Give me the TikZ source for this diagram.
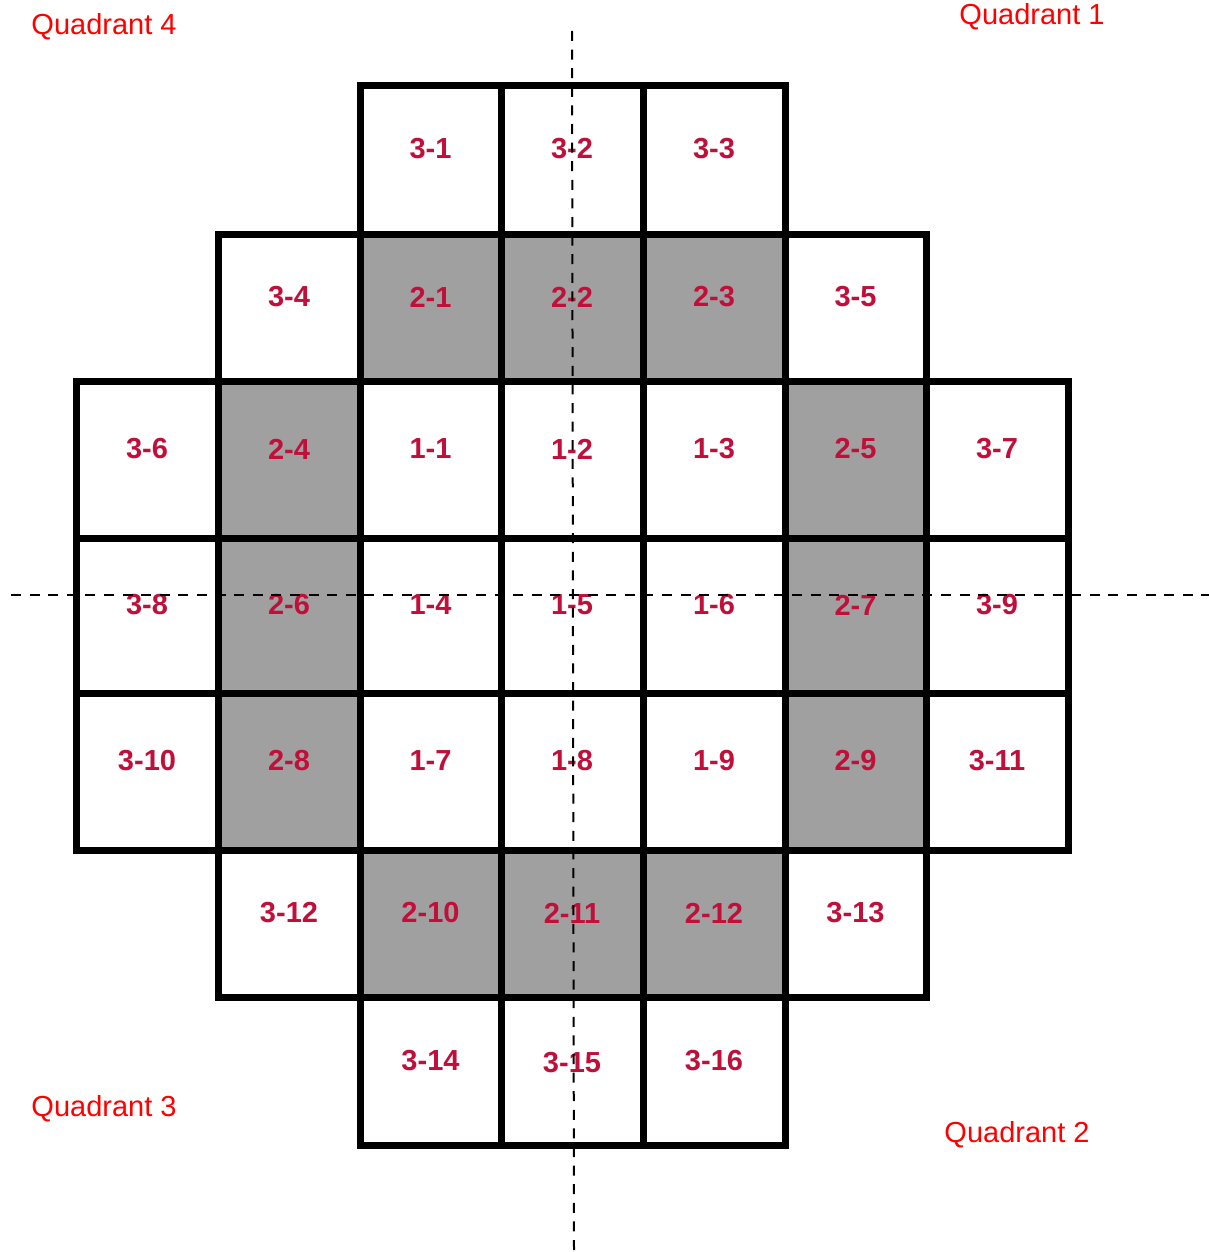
\documentclass[tikz,border=0pt]{standalone}
\usepackage{fontspec}
\setmainfont{Liberation Sans}
\definecolor{labred}{HTML}{C0103A}
\definecolor{cellgray}{HTML}{A0A0A0}
\tikzset{
  cellbox/.style={draw=black,line width=3.5pt,line join=miter},
  celllabel/.style={text=labred,font=\bfseries\fontsize{14.5}{17}\selectfont,inner sep=0pt},
  quadlabel/.style={text=red,font=\fontsize{14.5}{17}\selectfont,anchor=base,inner sep=0pt},
  axisline/.style={draw=black,line width=1pt,dash pattern=on 5pt off 4.3pt}
}
\begin{document}
\begin{tikzpicture}[x=0.5pt,y=-0.5pt]
\useasboundingbox (0,0) rectangle (1209,1252);
\def\colx{{76,218,360,501,643,785,926,1068}}
\def\rowy{{86,234,381,538,693,850,997,1145}}
\def\laby{{149,297,449,605,761,913,1061}}
% label / col / row / fill
\foreach \l/\c/\r/\f in {
 3-1/2/0/white,3-2/3/0/white,3-3/4/0/white,
 3-4/1/1/white,2-1/2/1/cellgray,2-2/3/1/cellgray,2-3/4/1/cellgray,3-5/5/1/white,
 3-6/0/2/white,2-4/1/2/cellgray,1-1/2/2/white,1-2/3/2/white,1-3/4/2/white,2-5/5/2/cellgray,3-7/6/2/white,
 3-8/0/3/white,2-6/1/3/cellgray,1-4/2/3/white,1-5/3/3/white,1-6/4/3/white,2-7/5/3/cellgray,3-9/6/3/white,
 3-10/0/4/white,2-8/1/4/cellgray,1-7/2/4/white,1-8/3/4/white,1-9/4/4/white,2-9/5/4/cellgray,3-11/6/4/white,
 3-12/1/5/white,2-10/2/5/cellgray,2-11/3/5/cellgray,2-12/4/5/cellgray,3-13/5/5/white,
 3-14/2/6/white,3-15/3/6/white,3-16/4/6/white}{
  \pgfmathsetmacro{\xa}{\colx[\c]}
  \pgfmathsetmacro{\xb}{\colx[\c+1]}
  \pgfmathsetmacro{\ya}{\rowy[\r]}
  \pgfmathsetmacro{\yb}{\rowy[\r+1]}
  \fill[\f] (\xa,\ya) rectangle (\xb,\yb);
}
\foreach \l/\c/\r/\dy in {
 3-1/2/0/0,3-2/3/0/0,3-3/4/0/0,
 3-4/1/1/0,2-1/2/1/0,2-2/3/1/0,2-3/4/1/0,3-5/5/1/0,
 3-6/0/2/0,2-4/1/2/0,1-1/2/2/0,1-2/3/2/0,1-3/4/2/0,2-5/5/2/0,3-7/6/2/0,
 3-8/0/3/0,2-6/1/3/0,1-4/2/3/0,1-5/3/3/0,1-6/4/3/0,2-7/5/3/0,3-9/6/3/0,
 3-10/0/4/0,2-8/1/4/0,1-7/2/4/0,1-8/3/4/0,1-9/4/4/0,2-9/5/4/0,3-11/6/4/0,
 3-12/1/5/0,2-10/2/5/0,2-11/3/5/0,2-12/4/5/0,3-13/5/5/0,
 3-14/2/6/0,3-15/3/6/2,3-16/4/6/0}{
  \pgfmathsetmacro{\xa}{\colx[\c]}
  \pgfmathsetmacro{\xb}{\colx[\c+1]}
  \pgfmathsetmacro{\ya}{\rowy[\r]}
  \pgfmathsetmacro{\yb}{\rowy[\r+1]}
  \pgfmathsetmacro{\ly}{\laby[\r]+\dy}
  \draw[cellbox] (\xa,\ya) rectangle (\xb,\yb);
  \node[celllabel] (cell\l) at ({(\xa+\xb)/2},\ly) {\l};
}
% axes
\coordinate (vtop) at (572,31);
\coordinate (vbot) at (574,1252);
\coordinate (hleft) at (11,595);
\coordinate (hright) at (1209,595);
\draw[axisline] (vtop) -- (vbot);
\draw[axisline] (hleft) -- (hright);
% quadrant labels
\node[quadlabel] (q4) at (104,35) {Quadrant 4};
\node[quadlabel] (q1) at (1032,25) {Quadrant 1};
\node[quadlabel] (q3) at (104,1116) {Quadrant 3};
\node[quadlabel] (q2) at (1017,1142) {Quadrant 2};
\end{tikzpicture}
\end{document}
